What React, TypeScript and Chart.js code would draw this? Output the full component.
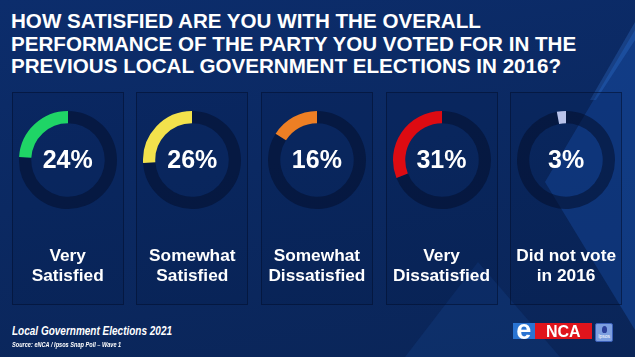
import React, { useEffect, useRef } from "react";
import { Chart, registerables } from "chart.js";

Chart.register(...registerables);

const TITLE_LINES = [
  "HOW SATISFIED ARE YOU WITH THE OVERALL",
  "PERFORMANCE OF THE PARTY YOU VOTED FOR IN THE",
  "PREVIOUS LOCAL GOVERNMENT ELECTIONS IN 2016?",
];
const CATEGORY_LINE1 = ["Very", "Somewhat", "Somewhat", "Very", "Did not vote"];
const CATEGORY_LINE2 = ["Satisfied", "Satisfied", "Dissatisfied", "Dissatisfied", "in 2016"];
const VALUES = [24, 26, 16, 31, 3];
const COLORS = ["#1fd566", "#f3e24c", "#ee7f24", "#dd0b12", "#b9c3ea"];
const TRACK = "rgba(4,14,44,0.55)";
const FOOT_TITLE = "Local Government Elections 2021";
const FOOT_SOURCE = "Source: eNCA / Ipsos Snap Poll \u2013 Wave 1";

const FONT = "'Liberation Sans', Arial, Helvetica, sans-serif";

function Donut({ value, color, label }: { value: number; color: string; label: string }) {
  const ref = useRef<HTMLCanvasElement | null>(null);
  useEffect(() => {
    if (!ref.current) return;
    const chart = new Chart(ref.current, {
      type: "doughnut",
      data: {
        labels: ["Rest", label],
        datasets: [
          {
            data: [100 - value, value],
            backgroundColor: [TRACK, color],
            borderWidth: 0,
          },
        ],
      },
      options: {
        responsive: false,
        animation: false,
        devicePixelRatio: 1,
        cutout: "75%",
        radius: 49,
        events: [],
        layout: { padding: 0 },
        plugins: { legend: { display: false }, tooltip: { enabled: false } },
      },
    });
    return () => chart.destroy();
  }, [value, color, label]);
  return <canvas ref={ref} width={100} height={100} style={{ width: 100, height: 100, display: "block" }} />;
}

export default function App() {
  const pitch = 124.6;
  const panelLeft0 = 11.7;
  const panelW = 112;
  const donutCy = 159.5;
  return (
    <div
      style={{
        position: "fixed",
        left: 0,
        top: 0,
        width: 635,
        height: 357,
        overflow: "hidden",
        fontFamily: FONT,
        color: "#fff",
        background: "linear-gradient(170deg, #0c2d6c 0%, #0b2962 45%, #0a2558 100%)",
      }}
    >
      {/* background shapes */}
      <div
        style={{
          position: "absolute",
          inset: 0,
          background: "rgba(30,100,205,0.32)",
          clipPath: "polygon(635px 30px, 545px 182px, 635px 330px)",
        }}
      />
      <div
        style={{
          position: "absolute",
          inset: 0,
          background: "rgba(40,110,210,0.13)",
          clipPath: "polygon(405px 357px, 478px 262px, 560px 357px)",
        }}
      />
      <div
        style={{
          position: "absolute",
          inset: 0,
          background: "rgba(60,130,230,0.25)",
          clipPath: "polygon(635px 22px, 635px 40px, 596px 100px, 590px 100px)",
        }}
      />

      {/* title */}
      <div
        style={{
          position: "absolute",
          left: 11,
          top: 10,
          fontSize: 20.6,
          lineHeight: "22.5px",
          fontWeight: 700,
          whiteSpace: "nowrap",
        }}
      >
        {TITLE_LINES.map((t, i) => (
          <div key={i}>{t}</div>
        ))}
      </div>

      {/* panels */}
      {VALUES.map((v, i) => {
        const left = panelLeft0 + i * pitch;
        const cx = left + panelW / 2;
        return (
          <React.Fragment key={i}>
            <div
              style={{
                position: "absolute",
                left,
                top: 92,
                width: panelW,
                height: 213,
                boxSizing: "border-box",
                border: "1.5px solid rgba(2,14,46,0.55)",
                background: "rgba(2,18,60,0.12)",
              }}
            />
            <div style={{ position: "absolute", left: cx - 50, top: donutCy - 50 }}>
              <Donut value={v} color={COLORS[i]} label={CATEGORY_LINE1[i] + " " + CATEGORY_LINE2[i]} />
            </div>
            <div
              style={{
                position: "absolute",
                left: cx - 50,
                width: 100,
                top: 146.5,
                textAlign: "center",
                fontSize: 25,
                lineHeight: "25px",
                fontWeight: 700,
              }}
            >
              {v}%
            </div>
            <div
              style={{
                position: "absolute",
                left: cx - 62,
                width: 124,
                top: 245,
                textAlign: "center",
                fontSize: 17.3,
                lineHeight: "20px",
                fontWeight: 700,
                whiteSpace: "nowrap",
              }}
            >
              <div>{CATEGORY_LINE1[i]}</div>
              <div>{CATEGORY_LINE2[i]}</div>
            </div>
          </React.Fragment>
        );
      })}

      {/* footer */}
      <div
        style={{
          position: "absolute",
          left: 11.7,
          top: 324,
          fontSize: 12.5,
          lineHeight: "14px",
          fontWeight: 700,
          fontStyle: "italic",
          whiteSpace: "nowrap",
          transform: "scaleX(0.8)",
          transformOrigin: "left top",
        }}
      >
        {FOOT_TITLE}
      </div>
      <div
        style={{
          position: "absolute",
          left: 11.7,
          top: 341,
          fontSize: 7,
          lineHeight: "8px",
          fontWeight: 700,
          fontStyle: "italic",
          whiteSpace: "nowrap",
          transform: "scaleX(0.8)",
          transformOrigin: "left top",
        }}
      >
        {FOOT_SOURCE}
      </div>

      {/* logos */}
      <div
        style={{
          position: "absolute",
          left: 512.7,
          top: 322.7,
          width: 22.3,
          height: 16.6,
          background: "#2a74d2",
          overflow: "hidden",
        }}
      >
        <div
          style={{
            position: "absolute",
            left: 0,
            width: 22.3,
            top: -6,
            fontSize: 27,
            lineHeight: "27px",
            fontWeight: 700,
            textAlign: "center",
          }}
        >
          e
        </div>
      </div>
      <div
        style={{
          position: "absolute",
          left: 535,
          top: 322.7,
          width: 56.7,
          height: 16.6,
          background: "#e0141c",
          fontSize: 16,
          lineHeight: "17px",
          fontWeight: 700,
          textAlign: "center",
        }}
      >
        NCA
      </div>
      <div
        style={{
          position: "absolute",
          left: 595,
          top: 323,
          width: 18.3,
          height: 18.7,
          boxSizing: "border-box",
          background: "#7d9fe0",
          border: "1px solid #3a5fb8",
          borderRadius: 2,
          fontSize: 5,
          lineHeight: "5px",
          textAlign: "center",
          color: "#fff",
        }}
      >
        <div
          style={{
            width: 5,
            height: 7,
            margin: "2px auto 1px",
            background: "#2b3f9a",
            borderRadius: "50% 50% 40% 40%",
          }}
        />
        Ipsos
      </div>
    </div>
  );
}
